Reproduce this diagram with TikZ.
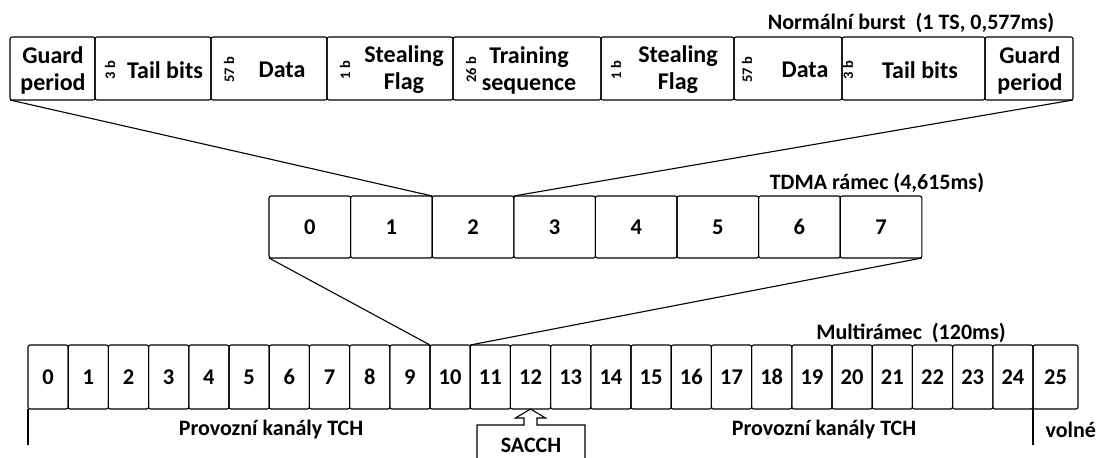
\documentclass[tikz,border=0pt]{standalone}
\usepackage{fontspec}
\setmainfont{Carlito}

\begin{document}
\begin{tikzpicture}[x=1pt, y=-1pt, line width=1.1pt,
    cell/.style={draw, rounded corners=2pt, inner sep=0pt, outer sep=0pt},
    lbl/.style={font=\bfseries\fontsize{22}{26}\selectfont, align=center, inner sep=0pt},
    field/.style={font=\bfseries\fontsize{24}{27}\selectfont, align=center, inner sep=0pt},
    num/.style={font=\bfseries\fontsize{22.5}{24}\selectfont},
    bits/.style={font=\bfseries\fontsize{14.5}{16}\selectfont, rotate=90, inner sep=0pt}]
                \useasboundingbox (0,0) rectangle (1101,458);

                % Normal burst
                \node[lbl] (burst) at (911,23) {Normální burst\ \ (1 TS, 0,577ms)};
                \foreach \l/\r [count=\i] in {10/95,95/211,211/327,327/453,453/601,601/734,734/842,842/985,985/1073}
                    \node[cell, minimum width={\r-\l}, minimum height=63] (b\i) at ({(\l+\r)/2},68.5) {};

                % Burst fields
                \node[field] (gp1) at (53,70) {Guard\\period};
                \node[bits] (n1) at (110,70) {3 b};
                \node[field] (tb1) at (165,70) {Tail bits};
                \node[bits] (n2) at (229,70) {57 b};
                \node[field] (d1) at (282,70) {Data};
                \node[bits] (n3) at (345,70) {1 b};
                \node[field] (sf1) at (404,70) {Stealing\\Flag};
                \node[bits] (n4) at (471,70) {26 b};
                \node[field] (ts) at (529,70) {Training\\sequence};
                \node[bits] (n5) at (616,70) {1 b};
                \node[field] (sf2) at (678,70) {Stealing\\Flag};
                \node[bits] (n6) at (747,70) {57 b};
                \node[field] (d2) at (805,70) {Data};
                \node[bits] (n7) at (848,70) {3 b};
                \node[field] (tb2) at (920,70) {Tail bits};
                \node[field] (gp2) at (1030,70) {Guard\\period};

                % TDMA frame
                \node[lbl] (tdma) at (877,183) {TDMA rámec (4,615ms)};
                \foreach \i in {0,...,7}
                    \node[cell, num, minimum width=81.6, minimum height=62] (t\i) at ({309.8+81.6*\i},227) {\i};

                % Burst -> time slot 2
                \draw (b1.south west) -- (t2.north west);
                \draw (b9.south east) -- (t2.north east);

                % Multiframe
                \node[lbl] (multi) at (911,333) {Multirámec\ \ (120ms)};
                \foreach \i in {0,...,24}
                    \node[cell, num, minimum width=40.2, minimum height=64] (m\i) at ({48.1+40.2*\i},377) {\i};
                \node[cell, num, minimum width=45, minimum height=64] (m25) at (1055.5,377) {25};

                % TDMA frame -> frame 10
                \draw (t0.south west) -- (m10.north west);
                \draw (t7.south east) -- (m10.north east);

                % Channel groups
                \draw (m0.south west) -- ++(0,36);
                \draw (m25.south west) -- ++(0,36);
                \node[lbl] (tch1) at (271,430) {Provozní kanály TCH};
                \node[lbl] (tch2) at (824,430) {Provozní kanály TCH};
                \node[lbl, anchor=west] (volne) at (1045,430) {volné};

                % SACCH pointer
                \draw (477,470) -- (477,425) -- (524,425) -- (524,418) -- (515.5,418) -- (m12.south)
                    -- (545.5,418) -- (537,418) -- (537,425) -- (585,425) -- (585,470);
                \node[lbl] (sacch) at (531,445) {SACCH};
            \end{tikzpicture}
\end{document}
